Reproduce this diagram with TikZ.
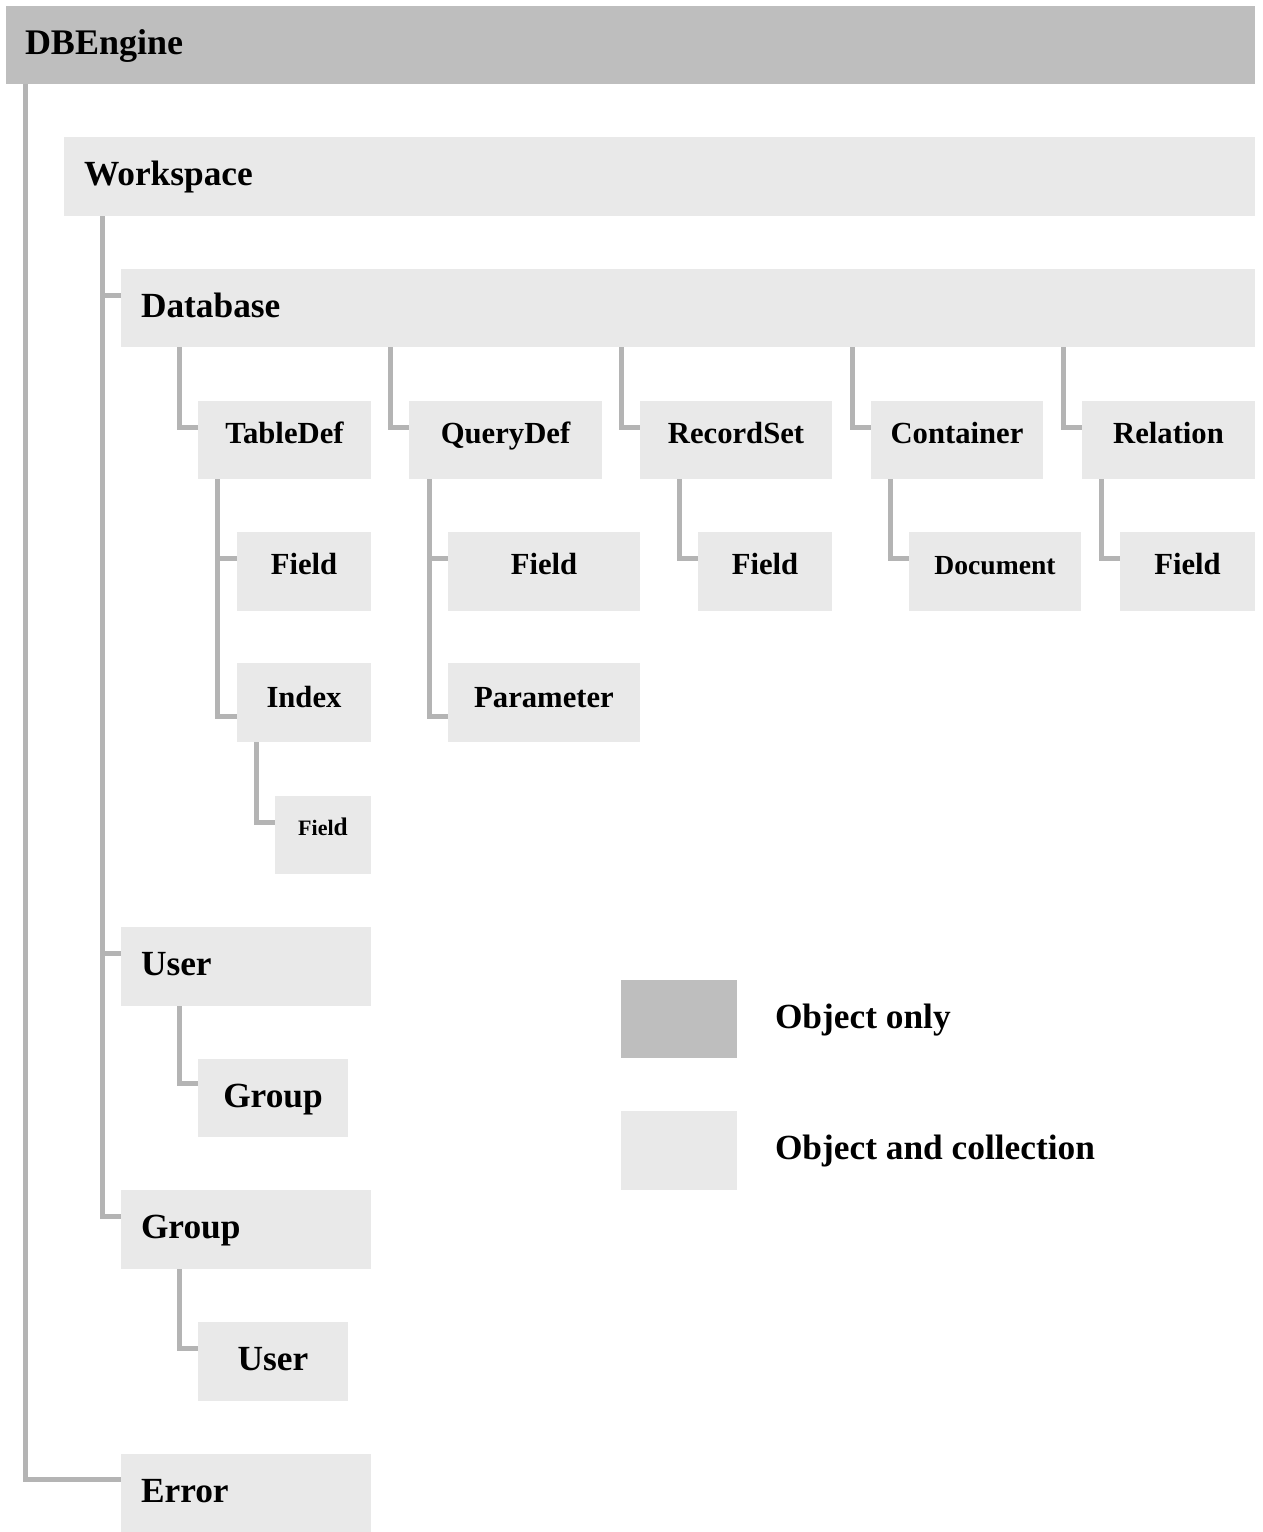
\documentclass[tikz,border=0pt]{standalone}
\usepackage{fontspec}
\setmainfont{Liberation Serif}
\usetikzlibrary{calc,fit}
\definecolor{objonly}{HTML}{BEBEBE}
\definecolor{objcoll}{HTML}{E9E9E9}
\definecolor{connc}{HTML}{B4B4B4}
\tikzset{
  darkbox/.style={inner sep=0pt, outer sep=0pt, fill=objonly, draw=none},
  lightbox/.style={inner sep=0pt, outer sep=0pt, fill=objcoll, draw=none},
  conn/.style={draw=connc, line width=3.75pt, line cap=butt, line join=miter},
  lbl/.style={inner sep=0pt, outer sep=0pt, font=\bfseries\fontsize{26.5}{30}\selectfont},
  lblmid/.style={inner sep=0pt, outer sep=0pt, font=\bfseries\fontsize{23}{26}\selectfont},
  lbldoc/.style={inner sep=0pt, outer sep=0pt, font=\bfseries\fontsize{20.7}{24}\selectfont},
}
\begin{document}
\begin{tikzpicture}[x=0.75pt,y=-0.75pt]
\useasboundingbox (0,0) rectangle (1263,1532);
% boxes
\node[darkbox, fit={(6,6) (1255,84)}] (dbe) {};
\node[lightbox, fit={(64,137) (1255,216)}] (ws) {};
\node[lightbox, fit={(121,269) (1255,347)}] (db) {};
\node[lightbox, fit={(198,401) (371,479)}] (td) {};
\node[lightbox, fit={(409,401) (602,479)}] (qd) {};
\node[lightbox, fit={(640,401) (832,479)}] (rs) {};
\node[lightbox, fit={(871,401) (1043,479)}] (ct) {};
\node[lightbox, fit={(1082,401) (1255,479)}] (rl) {};
\node[lightbox, fit={(237,532) (371,611)}] (tdf) {};
\node[lightbox, fit={(448,532) (640,611)}] (qdf) {};
\node[lightbox, fit={(698,532) (832,611)}] (rsf) {};
\node[lightbox, fit={(909,532) (1081,611)}] (doc) {};
\node[lightbox, fit={(1120,532) (1255,611)}] (rlf) {};
\node[lightbox, fit={(237,663) (371,742)}] (idx) {};
\node[lightbox, fit={(448,663) (640,742)}] (par) {};
\node[lightbox, fit={(275,796) (371,874)}] (idxf) {};
\node[lightbox, fit={(121,927) (371,1006)}] (usr) {};
\node[lightbox, fit={(198,1059) (348,1137)}] (usrg) {};
\node[lightbox, fit={(121,1190) (371,1269)}] (grp) {};
\node[lightbox, fit={(198,1322) (348,1401)}] (grpu) {};
\node[lightbox, fit={(121,1454) (371,1532)}] (err) {};
\node[darkbox, fit={(621,980) (737,1058)}] (lega) {};
\node[lightbox, fit={(621,1111) (737,1190)}] (legb) {};
% labels
\node[lbl, anchor=base west, font=\bfseries\fontsize{27}{30}\selectfont] (dbe-t) at ($(dbe.north west)+(19,48)$) {DBEngine};
\node[lbl, anchor=base west] (ws-t) at ($(ws.north west)+(20,48)$) {Workspace};
\node[lbl, anchor=base west] (db-t) at ($(db.north west)+(20,48)$) {Database};
\node[lblmid, anchor=base] (td-t) at ($(td.north)+(0,42)$) {TableDef};
\node[lblmid, anchor=base] (qd-t) at ($(qd.north)+(0,42)$) {QueryDef};
\node[lblmid, anchor=base] (rs-t) at ($(rs.north)+(0,42)$) {RecordSet};
\node[lblmid, anchor=base] (ct-t) at ($(ct.north)+(0,42)$) {Container};
\node[lblmid, anchor=base] (rl-t) at ($(rl.north)+(0,42)$) {Relation};
\node[lblmid, anchor=base] (tdf-t) at ($(tdf.north)+(0,42)$) {Field};
\node[lblmid, anchor=base] (qdf-t) at ($(qdf.north)+(0,42)$) {Field};
\node[lblmid, anchor=base] (rsf-t) at ($(rsf.north)+(0,42)$) {Field};
\node[lbldoc, anchor=base] (doc-t) at ($(doc.north)+(0,42)$) {Document};
\node[lblmid, anchor=base] (rlf-t) at ($(rlf.north)+(0,42)$) {Field};
\node[lblmid, anchor=base] (idx-t) at ($(idx.north)+(0,44)$) {Index};
\node[lblmid, anchor=base] (par-t) at ($(par.north)+(0,44)$) {Parameter};
\node[lblmid, anchor=base] (idxf-t) at ($(idxf.north)+(0,39)$) {{\fontsize{16.5}{20}\selectfont Fiel}{\fontsize{19}{22}\selectfont d}};
\node[lbl, anchor=base west] (usr-t) at ($(usr.north west)+(20,48)$) {User};
\node[lbl, anchor=base] (usrg-t) at ($(usrg.north)+(0,48)$) {Group};
\node[lbl, anchor=base west] (grp-t) at ($(grp.north west)+(20,48)$) {Group};
\node[lbl, anchor=base] (grpu-t) at ($(grpu.north)+(0,48)$) {User};
\node[lbl, anchor=base west] (err-t) at ($(err.north west)+(20,48)$) {Error};
\node[lbl, anchor=base west] (lega-t) at ($(lega.north west)+(154,48)$) {Object only};
\node[lbl, anchor=base west] (legb-t) at ($(legb.north west)+(154,48)$) {Object and collection};
% connector coordinates
\coordinate (dbex) at ($(dbe.south west)+(19.5,0)$);
\coordinate (wsx) at ($(ws.south west)+(38.5,0)$);
\coordinate (dbin) at ($(db.north west)+(0,26)$);
\coordinate (usrin) at ($(usr.north west)+(0,26)$);
\coordinate (tdx) at ($(td.south west)+(19,0)$);
\coordinate (tdfin) at ($(tdf.north west)+(0,26)$);
\coordinate (qdx) at ($(qd.south west)+(20,0)$);
\coordinate (qdfin) at ($(qdf.north west)+(0,26)$);
% connectors
\draw[conn] (dbex) |- ($(err.north west)+(0,25)$);
\draw[conn] (wsx) |- ($(grp.north west)+(0,26)$);
\draw[conn] (wsx |- dbin) -- (dbin);
\draw[conn] (wsx |- usrin) -- (usrin);
\draw[conn] ($(db.south west)+(58,0)$) |- ($(td.north west)+(0,26)$);
\draw[conn] ($(db.south west)+(269,0)$) |- ($(qd.north west)+(0,26)$);
\draw[conn] ($(db.south west)+(500,0)$) |- ($(rs.north west)+(0,26)$);
\draw[conn] ($(db.south west)+(731,0)$) |- ($(ct.north west)+(0,26)$);
\draw[conn] ($(db.south west)+(942,0)$) |- ($(rl.north west)+(0,26)$);
\draw[conn] (tdx) |- ($(idx.north west)+(0,53)$);
\draw[conn] (tdx |- tdfin) -- (tdfin);
\draw[conn] (qdx) |- ($(par.north west)+(0,53)$);
\draw[conn] (qdx |- qdfin) -- (qdfin);
\draw[conn] ($(rs.south west)+(39,0)$) |- ($(rsf.north west)+(0,26)$);
\draw[conn] ($(ct.south west)+(19,0)$) |- ($(doc.north west)+(0,26)$);
\draw[conn] ($(rl.south west)+(19,0)$) |- ($(rlf.north west)+(0,26)$);
\draw[conn] ($(idx.south west)+(19,0)$) |- ($(idxf.north west)+(0,26)$);
\draw[conn] ($(usr.south west)+(58,0)$) |- ($(usrg.north west)+(0,24)$);
\draw[conn] ($(grp.south west)+(58,0)$) |- ($(grpu.north west)+(0,26)$);
\end{tikzpicture}
\end{document}
